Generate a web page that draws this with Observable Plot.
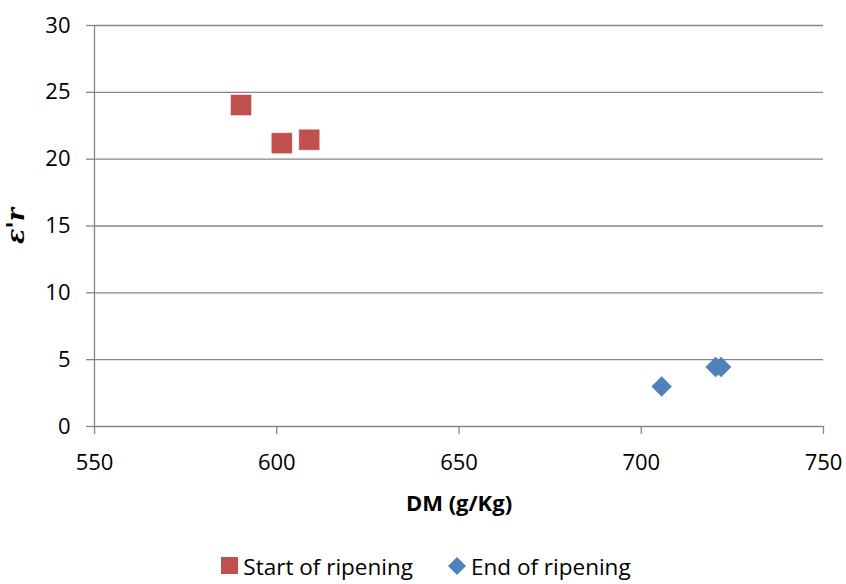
<!DOCTYPE html>
<html>
<head>
<meta charset="utf-8">
<script src="https://cdn.jsdelivr.net/npm/d3@7"></script>
<script src="https://cdn.jsdelivr.net/npm/@observablehq/plot@0.6"></script>
<style>
  html, body { margin: 0; padding: 0; background: #fff; }
  #chart { width: 846px; }
  g[aria-label="x-axis tick label"] text, g[aria-label="y-axis tick label"] text { font-size: 22px; }
  g[aria-label="x-axis label"] text { font-weight: bold; font-size: 22px; }
  g[aria-label="y-axis label"] text { font-weight: bold; font-style: italic; font-size: 25px; font-family: "DejaVu Serif", serif; }
  .legend { display: flex; justify-content: center; align-items: center; gap: 34px; height: 36px; margin-top: 28px;
            font-family: "Open Sans", sans-serif; font-size: 22.5px; color: #000; margin-left: 6px; }
  .item { display: flex; align-items: center; gap: 4px; }
</style>
</head>
<body>
<div id="chart"></div>
<script>
const seriesNames = ["Start of ripening", "End of ripening"];
const startDM = [590.2, 601.4, 608.9];
const startEr = [24.05, 21.2, 21.45];
const endDM = [705.6, 720.4, 721.9];
const endEr = [3.0, 4.45, 4.45];
const xTicks = [550, 600, 650, 700, 750];
const yTicks = [0, 5, 10, 15, 20, 25, 30];
const colors = ["#C0504D", "#4F81BD"];

const startData = startDM.map((d, i) => ({dm: d, er: startEr[i], series: seriesNames[0]}));
const endData = endDM.map((d, i) => ({dm: d, er: endEr[i], series: seriesNames[1]}));

const chart = Plot.plot({
  width: 846,
  height: 520,
  marginLeft: 94,
  marginRight: 23,
  marginTop: 25,
  marginBottom: 94,
  style: {fontFamily: "Open Sans, sans-serif", fontSize: "21px", color: "#000", background: "#fff", overflow: "visible"},
  x: {domain: [550, 750]},
  y: {domain: [0, 30]},
  marks: [
    Plot.gridY(yTicks, {stroke: "#868686", strokeOpacity: 1, strokeWidth: 1.3}),
    Plot.ruleX([550], {stroke: "#868686", strokeWidth: 1.3}),
    Plot.axisX(xTicks, {tickSize: 8, tickPadding: 20, stroke: "#868686", strokeWidth: 1.3, fill: "#000",
      label: "DM (g/Kg)", labelAnchor: "center", labelOffset: 84, labelArrow: "none"}),
    Plot.axisY(yTicks, {tickSize: 8, tickPadding: 16, stroke: "#868686", strokeWidth: 1.3, fill: "#000",
      label: "ε'r", labelAnchor: "center", labelOffset: 88, labelArrow: "none"}),
    Plot.dot(startData, {x: "dm", y: "er", symbol: "square", r: 11.3, fill: colors[0], stroke: colors[0], strokeWidth: 0.5}),
    Plot.dot(endData, {x: "dm", y: "er", symbol: "diamond2", r: 9, fill: colors[1], stroke: colors[1], strokeWidth: 0.5})
  ]
});
document.getElementById("chart").appendChild(chart);

const legend = document.createElement("div");
legend.className = "legend";
legend.innerHTML = `
  <div class="item"><svg width="18" height="18"><rect x="0" y="0" width="17" height="17" fill="${colors[0]}"/></svg><span>${seriesNames[0]}</span></div>
  <div class="item"><svg width="20" height="20"><path d="M10,1 L19,10 L10,19 L1,10 Z" fill="${colors[1]}"/></svg><span>${seriesNames[1]}</span></div>`;
document.getElementById("chart").appendChild(legend);
</script>
</body>
</html>
